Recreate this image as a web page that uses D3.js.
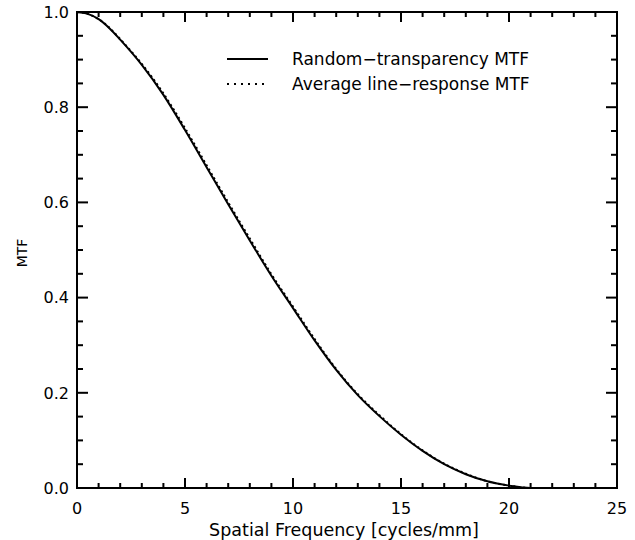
<!DOCTYPE html>
<html><head><meta charset="utf-8">
<script src="https://cdn.jsdelivr.net/npm/d3@7"></script>
<style>body{margin:0;background:#fff;} text{font-family:"DejaVu Sans",sans-serif;fill:#000;}</style>
</head><body><svg id="c" width="635" height="540"></svg>
<script>
const freq = [0,0.5,1,1.5,2,3,4,5,6,7,8,9,10,11,12,13,14,15,16,17,18,19,20,21,22];
const randomMTF = [1.000,0.996,0.985,0.966,0.942,0.889,0.826,0.752,0.674,0.596,0.520,0.446,0.378,0.310,0.248,0.195,0.151,0.112,0.078,0.050,0.029,0.014,0.005,0.000,0.000];
const lineMTF   = [1.000,0.996,0.985,0.967,0.943,0.891,0.829,0.756,0.678,0.600,0.524,0.449,0.381,0.313,0.250,0.197,0.153,0.113,0.079,0.051,0.030,0.014,0.005,0.000,0.000];
const seriesNames = ["Random\u2212transparency MTF","Average line\u2212response MTF"];
const xTicks = [0,5,10,15,20,25];
const yTicks = [0.0,0.2,0.4,0.6,0.8,1.0];
const xMinorTicks = [1,2,3,4,6,7,8,9,11,12,13,14,16,17,18,19,21,22,23,24];
const yMinorTicks = [0.05,0.10,0.15,0.25,0.30,0.35,0.45,0.50,0.55,0.65,0.70,0.75,0.85,0.90,0.95];

const svg = d3.select("#c");
const L=77, R=617, T=12, B=488;
const x = d3.scaleLinear().domain([0,25]).range([L,R]);
const y = d3.scaleLinear().domain([0,1]).range([B,T]);

svg.append("rect").attr("x",L).attr("y",T).attr("width",R-L).attr("height",B-T)
 .attr("fill","none").attr("stroke","#000").attr("stroke-width",2);

const tg = svg.append("g").attr("fill","#000");
function xTickRects(vals, len){
  tg.append("g").selectAll("rect").data(vals).join("rect")
    .attr("x",d=>x(d)-1).attr("y",B-len).attr("width",2).attr("height",len);
  tg.append("g").selectAll("rect").data(vals).join("rect")
    .attr("x",d=>x(d)-1).attr("y",T).attr("width",2).attr("height",len);
}
function yTickRects(vals, len){
  tg.append("g").selectAll("rect").data(vals).join("rect")
    .attr("x",L).attr("y",d=>y(d)-1).attr("width",len).attr("height",2);
  tg.append("g").selectAll("rect").data(vals).join("rect")
    .attr("x",R-len).attr("y",d=>y(d)-1).attr("width",len).attr("height",2);
}
xTickRects(xTicks,10); xTickRects(xMinorTicks,5);
yTickRects(yTicks,11); yTickRects(yMinorTicks,6);

svg.append("g").selectAll("text").data(xTicks).join("text")
  .attr("x",d=>x(d)).attr("y",514).attr("text-anchor","middle").attr("font-size",16)
  .text(d=>d3.format("d")(d));
svg.append("g").selectAll("text").data(yTicks).join("text")
  .attr("x",L-8).attr("y",d=>y(d)).attr("dy","0.36em").attr("text-anchor","end").attr("font-size",16)
  .text(d=>d3.format(".1f")(d));

const line = d3.line().x((d,i)=>x(freq[i])).y(d=>y(d)).curve(d3.curveMonotoneX);
svg.append("path").attr("d",line(randomMTF)).attr("fill","none").attr("stroke","#000").attr("stroke-width",2);
svg.append("path").attr("d",line(lineMTF)).attr("fill","none").attr("stroke","#000").attr("stroke-width",2).attr("stroke-dasharray","2,3");

// legend
const leg = svg.append("g");
leg.append("line").attr("x1",227).attr("x2",268).attr("y1",59).attr("y2",59).attr("stroke","#000").attr("stroke-width",1.8);
leg.append("line").attr("x1",227).attr("x2",268).attr("y1",84).attr("y2",84).attr("stroke","#000").attr("stroke-width",2).attr("stroke-dasharray","2,5");
leg.append("text").attr("x",292).attr("y",65).attr("font-size",17).text(seriesNames[0]);
leg.append("text").attr("x",292).attr("y",90).attr("font-size",17).text(seriesNames[1]);

svg.append("text").attr("x",344).attr("y",536).attr("text-anchor","middle").attr("font-size",17.5).text("Spatial Frequency [cycles/mm]");
svg.append("text").attr("transform","translate(27,253) rotate(-90)").attr("text-anchor","middle").attr("font-size",14).text("MTF");
</script></body></html>
